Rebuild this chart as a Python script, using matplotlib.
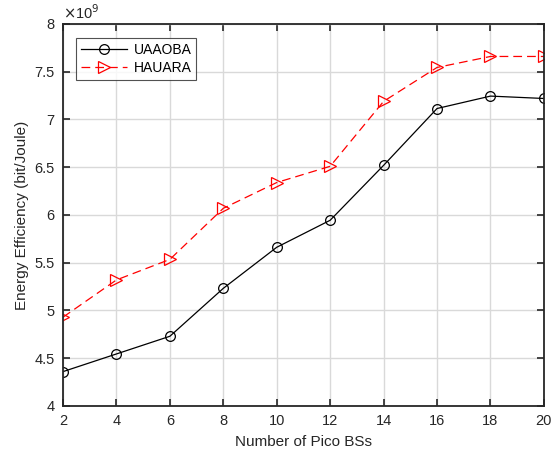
import matplotlib.pyplot as plt
from matplotlib.ticker import FuncFormatter

plt.rcParams['font.family'] = ['Liberation Sans', 'DejaVu Sans']

# data
n_pico = [2, 4, 6, 8, 10, 12, 14, 16, 18, 20]
uaaoba = [4.36e9, 4.545e9, 4.73e9, 5.232e9, 5.662e9, 5.945e9, 6.52e9, 7.115e9, 7.245e9, 7.22e9]
hauara = [4.93e9, 5.32e9, 5.535e9, 6.07e9, 6.34e9, 6.51e9, 7.19e9, 7.545e9, 7.66e9, 7.66e9]

xticks = list(range(2, 21, 2))
yticks = [4e9, 4.5e9, 5e9, 5.5e9, 6e9, 6.5e9, 7e9, 7.5e9, 8e9]

fig = plt.figure(figsize=(5.59, 4.57), dpi=100)
ax = fig.add_axes([0.1127, 0.1116, 0.8603, 0.8359])

ax.plot(n_pico, uaaoba, color='black', lw=0.9, marker='o', ms=7,
        mfc='none', mec='black', mew=0.9, label='UAAOBA')
ax.plot(n_pico, hauara, color='red', lw=0.9, ls=(0, (7, 4)), marker='>', ms=8,
        mfc='none', mec='red', mew=0.9, label='HAUARA')

ax.set_xlim(2, 20)
ax.set_ylim(4e9, 8e9)
ax.set_xticks(xticks)
ax.set_yticks(yticks)
ax.yaxis.set_major_formatter(FuncFormatter(lambda v, p: '{:g}'.format(v / 1e9)))

ax.grid(True, color='#d9d9d9', lw=1.0)
ax.set_axisbelow(True)
ax.tick_params(direction='in', top=True, right=True, length=5, width=1.2,
               labelsize=10.5, colors='#262626', pad=6)
for s in ax.spines.values():
    s.set_linewidth(1.3)
    s.set_color('#262626')

ax.text(0.0, 1.005, r'$\times$10$^9$', transform=ax.transAxes, fontsize=10.5,
        color='#262626', ha='left', va='bottom')

ax.set_xlabel('Number of Pico BSs', fontsize=11, color='#262626', labelpad=5)
ax.set_ylabel('Energy Efficiency (bit/Joule)', fontsize=11, color='#262626')

leg = ax.legend(loc='upper left', bbox_to_anchor=(0.027, 0.964), borderaxespad=0,
                fontsize=10, fancybox=False, edgecolor='#262626', handlelength=3.3,
                handletextpad=0.5, borderpad=0.35, labelspacing=0.3)
leg.get_frame().set_linewidth(0.8)

fig.savefig('out.png', dpi=100)
